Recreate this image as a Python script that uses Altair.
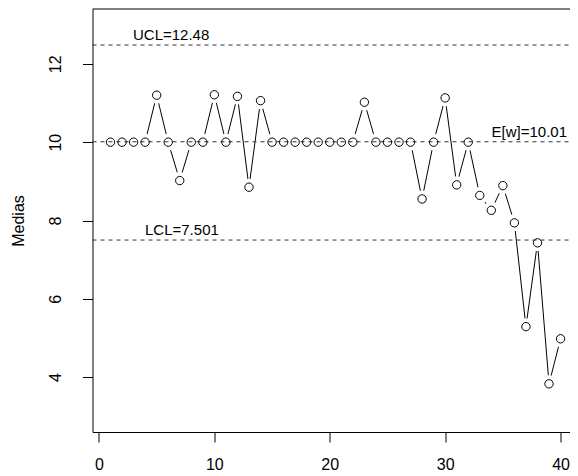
import altair as alt
import pandas as pd

samples = list(range(1, 41))
means = [10, 10, 10, 10, 11.20, 10, 9.02, 10, 10, 11.21,
         10, 11.17, 8.85, 11.06, 10, 10, 10, 10, 10, 10,
         10, 10, 11.02, 10, 10, 10, 10, 8.55, 10, 11.13,
         8.91, 10, 8.64, 8.26, 8.89, 7.94, 5.29, 7.43, 3.83, 4.98]

limit_names = ["UCL", "CL", "LCL"]
limit_values = [12.48, 10.01, 7.501]
limit_labels = ["UCL=12.48", "E[w]=10.01", "LCL=7.501"]

x_ticks = [0, 10, 20, 30, 40]
y_ticks = [4, 6, 8, 10, 12]

PADL = 84.5
W, H = 562 - PADL, 423
FONT = "Liberation Sans"

df = pd.DataFrame({"sample": samples, "mean": means})
lim = pd.DataFrame({"name": limit_names, "value": limit_values, "label": limit_labels})

xs = alt.Scale(domain=[-0.56, -0.56 + W / 11.54], nice=False, zero=False)
ys = alt.Scale(domain=[2.6, 13.4], nice=False, zero=False)

x_enc = alt.X("sample:Q", scale=xs,
              axis=alt.Axis(values=x_ticks, title=None, format="d",
                            labelPadding=14))
y_enc = alt.Y("mean:Q", scale=ys,
              axis=alt.Axis(values=y_ticks, title="Medias", format="d",
                            labelAngle=270, labelAlign="center",
                            labelBaseline="bottom", labelPadding=19,
                            titlePadding=21))

base = alt.Chart(df)
line = base.mark_line(color="black", strokeWidth=1).encode(x=x_enc, y=y_enc)
mask = base.mark_point(shape="circle", filled=True, color="white",
                       opacity=1, size=290).encode(
    x=alt.X("sample:Q", scale=xs), y=alt.Y("mean:Q", scale=ys))
rules = alt.Chart(lim).mark_rule(color="#333333", strokeDash=[4, 4],
                                 strokeWidth=1).encode(
    y=alt.Y("value:Q", scale=ys), x=alt.value(0), x2=alt.value(W))
pts = base.mark_point(shape="circle", size=70, color="black", filled=False,
                      strokeWidth=1, opacity=1).encode(
    x=alt.X("sample:Q", scale=xs), y=alt.Y("mean:Q", scale=ys))
top = alt.Chart(lim).transform_filter(alt.datum.name == "UCL").mark_rule(
    color="black", strokeWidth=1).encode(
    x=alt.value(0), x2=alt.value(W), y=alt.value(0))

def label(name, xpix, align):
    return alt.Chart(lim).transform_filter(alt.datum.name == name).mark_text(
        align=align, baseline="alphabetic", dy=-5, fontSize=15, font=FONT,
        color="black").encode(
        x=alt.value(xpix), y=alt.Y("value:Q", scale=ys), text="label:N")

texts = [label("UCL", 40.5, "left"), label("LCL", 52.5, "left"),
         label("CL", 474.5, "right")]

chart = alt.layer(line, mask, rules, pts, top, *texts).properties(
    width=W, height=H,
    autosize=alt.AutoSizeParams(type="none"),
    padding={"left": PADL, "top": 1, "right": 0, "bottom": 44},
).configure_view(stroke=None).configure_axis(
    grid=False, domainColor="black", tickColor="black", tickSize=10,
    labelFontSize=16, labelFont=FONT, labelColor="black",
    titleFontSize=16, titleFont=FONT, titleColor="black",
    titleFontWeight="normal", domainWidth=1, tickWidth=1,
)

chart.save("out.html", embed_options={"renderer": "svg", "actions": False})
